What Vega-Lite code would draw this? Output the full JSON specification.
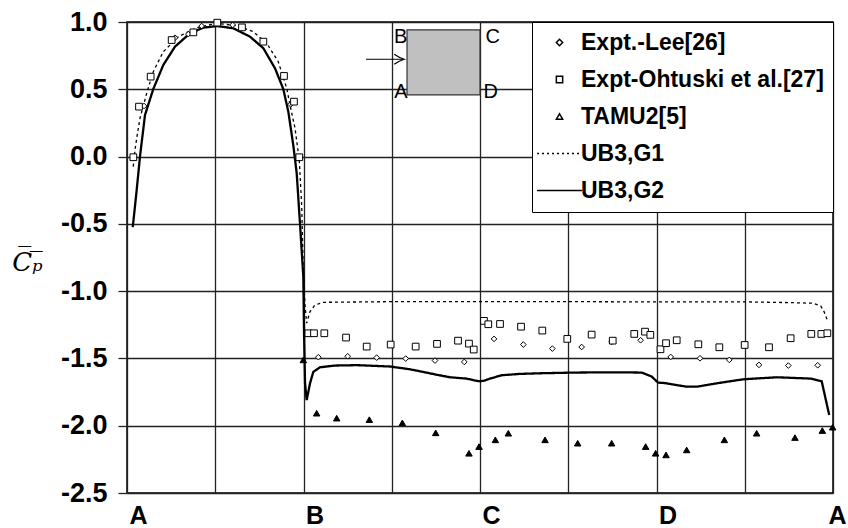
{
  "$schema": "https://vega.github.io/schema/vega-lite/v6.json",
  "width": 706,
  "height": 471,
  "autosize": "none",
  "padding": {"left": 127, "top": 22, "right": 15, "bottom": 35},
  "background": "white",
  "config": {
    "view": {"stroke": "black", "strokeWidth": 1.5},
    "font": "Liberation Sans",
    "axis": {
      "grid": true,
      "gridColor": "#222222",
      "gridWidth": 1.3,
      "gridOpacity": 1,
      "domain": false,
      "labelColor": "black",
      "labelFont": "Liberation Sans",
      "labelFontWeight": "bold",
      "labelFlush": false,
      "labelOverlap": false
    }
  },
  "datasets": {
    "curves": [
      {"series": "UB3,G2", "x": 0.065, "y": -0.525},
      {"series": "UB3,G2", "x": 0.110, "y": -0.248},
      {"series": "UB3,G2", "x": 0.147, "y": 0.0},
      {"series": "UB3,G2", "x": 0.204, "y": 0.309},
      {"series": "UB3,G2", "x": 0.298, "y": 0.502},
      {"series": "UB3,G2", "x": 0.411, "y": 0.68},
      {"series": "UB3,G2", "x": 0.544, "y": 0.817},
      {"series": "UB3,G2", "x": 0.714, "y": 0.916},
      {"series": "UB3,G2", "x": 0.865, "y": 0.958},
      {"series": "UB3,G2", "x": 1.023, "y": 0.970},
      {"series": "UB3,G2", "x": 1.205, "y": 0.953},
      {"series": "UB3,G2", "x": 1.394, "y": 0.891},
      {"series": "UB3,G2", "x": 1.545, "y": 0.805},
      {"series": "UB3,G2", "x": 1.677, "y": 0.656},
      {"series": "UB3,G2", "x": 1.771, "y": 0.502},
      {"series": "UB3,G2", "x": 1.828, "y": 0.334},
      {"series": "UB3,G2", "x": 1.884, "y": 0.086},
      {"series": "UB3,G2", "x": 1.923, "y": -0.124},
      {"series": "UB3,G2", "x": 1.960, "y": -0.496},
      {"series": "UB3,G2", "x": 1.998, "y": -0.892},
      {"series": "UB3,G2", "x": 2.006, "y": -1.3},
      {"series": "UB3,G2", "x": 2.017, "y": -1.68},
      {"series": "UB3,G2", "x": 2.036, "y": -1.81},
      {"series": "UB3,G2", "x": 2.074, "y": -1.685},
      {"series": "UB3,G2", "x": 2.111, "y": -1.6},
      {"series": "UB3,G2", "x": 2.187, "y": -1.566},
      {"series": "UB3,G2", "x": 2.35, "y": -1.553},
      {"series": "UB3,G2", "x": 2.603, "y": -1.55},
      {"series": "UB3,G2", "x": 2.98, "y": -1.56},
      {"series": "UB3,G2", "x": 3.2, "y": -1.58},
      {"series": "UB3,G2", "x": 3.354, "y": -1.6},
      {"series": "UB3,G2", "x": 3.5, "y": -1.62},
      {"series": "UB3,G2", "x": 3.66, "y": -1.64},
      {"series": "UB3,G2", "x": 3.849, "y": -1.65},
      {"series": "UB3,G2", "x": 3.95, "y": -1.665},
      {"series": "UB3,G2", "x": 4.0, "y": -1.67},
      {"series": "UB3,G2", "x": 4.05, "y": -1.665},
      {"series": "UB3,G2", "x": 4.113, "y": -1.65},
      {"series": "UB3,G2", "x": 4.246, "y": -1.625},
      {"series": "UB3,G2", "x": 4.45, "y": -1.615},
      {"series": "UB3,G2", "x": 4.699, "y": -1.61},
      {"series": "UB3,G2", "x": 5.076, "y": -1.605},
      {"series": "UB3,G2", "x": 5.5, "y": -1.603},
      {"series": "UB3,G2", "x": 5.832, "y": -1.605},
      {"series": "UB3,G2", "x": 5.946, "y": -1.635},
      {"series": "UB3,G2", "x": 6.017, "y": -1.68},
      {"series": "UB3,G2", "x": 6.096, "y": -1.683},
      {"series": "UB3,G2", "x": 6.2, "y": -1.695},
      {"series": "UB3,G2", "x": 6.342, "y": -1.71},
      {"series": "UB3,G2", "x": 6.456, "y": -1.71},
      {"series": "UB3,G2", "x": 6.682, "y": -1.685},
      {"series": "UB3,G2", "x": 6.984, "y": -1.655},
      {"series": "UB3,G2", "x": 7.362, "y": -1.64},
      {"series": "UB3,G2", "x": 7.751, "y": -1.65},
      {"series": "UB3,G2", "x": 7.872, "y": -1.67},
      {"series": "UB3,G2", "x": 7.957, "y": -1.92},
      {"series": "UB3,G1", "x": 0.071, "y": -0.075},
      {"series": "UB3,G1", "x": 0.091, "y": 0.05},
      {"series": "UB3,G1", "x": 0.110, "y": 0.136},
      {"series": "UB3,G1", "x": 0.147, "y": 0.285},
      {"series": "UB3,G1", "x": 0.223, "y": 0.47},
      {"series": "UB3,G1", "x": 0.298, "y": 0.631},
      {"series": "UB3,G1", "x": 0.411, "y": 0.779},
      {"series": "UB3,G1", "x": 0.581, "y": 0.891},
      {"series": "UB3,G1", "x": 0.790, "y": 0.958},
      {"series": "UB3,G1", "x": 1.016, "y": 0.99},
      {"series": "UB3,G1", "x": 1.243, "y": 0.973},
      {"series": "UB3,G1", "x": 1.431, "y": 0.928},
      {"series": "UB3,G1", "x": 1.583, "y": 0.842},
      {"series": "UB3,G1", "x": 1.714, "y": 0.705},
      {"series": "UB3,G1", "x": 1.810, "y": 0.507},
      {"series": "UB3,G1", "x": 1.847, "y": 0.383},
      {"series": "UB3,G1", "x": 1.904, "y": 0.21},
      {"series": "UB3,G1", "x": 1.952, "y": -0.025},
      {"series": "UB3,G1", "x": 1.980, "y": -0.372},
      {"series": "UB3,G1", "x": 1.998, "y": -0.867},
      {"series": "UB3,G1", "x": 2.017, "y": -1.1},
      {"series": "UB3,G1", "x": 2.036, "y": -1.238},
      {"series": "UB3,G1", "x": 2.074, "y": -1.152},
      {"series": "UB3,G1", "x": 2.130, "y": -1.103},
      {"series": "UB3,G1", "x": 2.224, "y": -1.083},
      {"series": "UB3,G1", "x": 3.0, "y": -1.078},
      {"series": "UB3,G1", "x": 4.0, "y": -1.078},
      {"series": "UB3,G1", "x": 5.0, "y": -1.078},
      {"series": "UB3,G1", "x": 6.0, "y": -1.08},
      {"series": "UB3,G1", "x": 7.0, "y": -1.08},
      {"series": "UB3,G1", "x": 7.5, "y": -1.085},
      {"series": "UB3,G1", "x": 7.777, "y": -1.09},
      {"series": "UB3,G1", "x": 7.861, "y": -1.11},
      {"series": "UB3,G1", "x": 7.898, "y": -1.152},
      {"series": "UB3,G1", "x": 7.935, "y": -1.214}
    ],
    "tests": [
      {"series": "Expt.-Lee[26]", "x": 0.193, "y": 0.376},
      {"series": "Expt.-Lee[26]", "x": 0.544, "y": 0.883},
      {"series": "Expt.-Lee[26]", "x": 0.695, "y": 0.91},
      {"series": "Expt.-Lee[26]", "x": 0.846, "y": 0.97},
      {"series": "Expt.-Lee[26]", "x": 1.197, "y": 0.978},
      {"series": "Expt.-Lee[26]", "x": 1.855, "y": 0.388},
      {"series": "Expt.-Lee[26]", "x": 2.168, "y": -1.491},
      {"series": "Expt.-Lee[26]", "x": 2.501, "y": -1.484},
      {"series": "Expt.-Lee[26]", "x": 2.829, "y": -1.494},
      {"series": "Expt.-Lee[26]", "x": 3.158, "y": -1.501},
      {"series": "Expt.-Lee[26]", "x": 3.49, "y": -1.516},
      {"series": "Expt.-Lee[26]", "x": 3.822, "y": -1.526},
      {"series": "Expt.-Lee[26]", "x": 4.159, "y": -1.355},
      {"series": "Expt.-Lee[26]", "x": 4.491, "y": -1.397},
      {"series": "Expt.-Lee[26]", "x": 4.82, "y": -1.427},
      {"series": "Expt.-Lee[26]", "x": 5.152, "y": -1.415},
      {"series": "Expt.-Lee[26]", "x": 5.492, "y": -1.377},
      {"series": "Expt.-Lee[26]", "x": 5.82, "y": -1.365},
      {"series": "Expt.-Lee[26]", "x": 6.161, "y": -1.489},
      {"series": "Expt.-Lee[26]", "x": 6.493, "y": -1.499},
      {"series": "Expt.-Lee[26]", "x": 6.825, "y": -1.511},
      {"series": "Expt.-Lee[26]", "x": 7.161, "y": -1.548},
      {"series": "Expt.-Lee[26]", "x": 7.494, "y": -1.553},
      {"series": "Expt.-Lee[26]", "x": 7.827, "y": -1.551},
      {"series": "Expt-Ohtuski et al.[27]", "x": 0.072, "y": -0.005},
      {"series": "Expt-Ohtuski et al.[27]", "x": 0.136, "y": 0.371},
      {"series": "Expt-Ohtuski et al.[27]", "x": 0.268, "y": 0.594},
      {"series": "Expt-Ohtuski et al.[27]", "x": 0.506, "y": 0.866},
      {"series": "Expt-Ohtuski et al.[27]", "x": 0.752, "y": 0.923},
      {"series": "Expt-Ohtuski et al.[27]", "x": 1.023, "y": 0.995},
      {"series": "Expt-Ohtuski et al.[27]", "x": 1.303, "y": 0.96},
      {"series": "Expt-Ohtuski et al.[27]", "x": 1.545, "y": 0.854},
      {"series": "Expt-Ohtuski et al.[27]", "x": 1.779, "y": 0.599},
      {"series": "Expt-Ohtuski et al.[27]", "x": 1.892, "y": 0.408},
      {"series": "Expt-Ohtuski et al.[27]", "x": 1.952, "y": -0.005},
      {"series": "Expt-Ohtuski et al.[27]", "x": 2.055, "y": -1.313},
      {"series": "Expt-Ohtuski et al.[27]", "x": 2.119, "y": -1.313},
      {"series": "Expt-Ohtuski et al.[27]", "x": 2.236, "y": -1.313},
      {"series": "Expt-Ohtuski et al.[27]", "x": 2.482, "y": -1.345},
      {"series": "Expt-Ohtuski et al.[27]", "x": 2.716, "y": -1.412},
      {"series": "Expt-Ohtuski et al.[27]", "x": 2.988, "y": -1.397},
      {"series": "Expt-Ohtuski et al.[27]", "x": 3.271, "y": -1.412},
      {"series": "Expt-Ohtuski et al.[27]", "x": 3.513, "y": -1.392},
      {"series": "Expt-Ohtuski et al.[27]", "x": 3.751, "y": -1.368},
      {"series": "Expt-Ohtuski et al.[27]", "x": 3.875, "y": -1.39},
      {"series": "Expt-Ohtuski et al.[27]", "x": 3.929, "y": -1.434},
      {"series": "Expt-Ohtuski et al.[27]", "x": 4.045, "y": -1.221},
      {"series": "Expt-Ohtuski et al.[27]", "x": 4.094, "y": -1.246},
      {"series": "Expt-Ohtuski et al.[27]", "x": 4.227, "y": -1.244},
      {"series": "Expt-Ohtuski et al.[27]", "x": 4.465, "y": -1.264},
      {"series": "Expt-Ohtuski et al.[27]", "x": 4.706, "y": -1.293},
      {"series": "Expt-Ohtuski et al.[27]", "x": 4.989, "y": -1.355},
      {"series": "Expt-Ohtuski et al.[27]", "x": 5.265, "y": -1.323},
      {"series": "Expt-Ohtuski et al.[27]", "x": 5.504, "y": -1.368},
      {"series": "Expt-Ohtuski et al.[27]", "x": 5.748, "y": -1.318},
      {"series": "Expt-Ohtuski et al.[27]", "x": 5.87, "y": -1.301},
      {"series": "Expt-Ohtuski et al.[27]", "x": 5.93, "y": -1.325},
      {"series": "Expt-Ohtuski et al.[27]", "x": 6.045, "y": -1.432},
      {"series": "Expt-Ohtuski et al.[27]", "x": 6.108, "y": -1.387},
      {"series": "Expt-Ohtuski et al.[27]", "x": 6.229, "y": -1.365},
      {"series": "Expt-Ohtuski et al.[27]", "x": 6.474, "y": -1.395},
      {"series": "Expt-Ohtuski et al.[27]", "x": 6.712, "y": -1.417},
      {"series": "Expt-Ohtuski et al.[27]", "x": 6.999, "y": -1.4},
      {"series": "Expt-Ohtuski et al.[27]", "x": 7.275, "y": -1.417},
      {"series": "Expt-Ohtuski et al.[27]", "x": 7.52, "y": -1.35},
      {"series": "Expt-Ohtuski et al.[27]", "x": 7.754, "y": -1.318},
      {"series": "Expt-Ohtuski et al.[27]", "x": 7.868, "y": -1.318},
      {"series": "Expt-Ohtuski et al.[27]", "x": 7.936, "y": -1.313},
      {"series": "TAMU2[5]", "x": 1.998, "y": -1.511},
      {"series": "TAMU2[5]", "x": 2.149, "y": -1.907},
      {"series": "TAMU2[5]", "x": 2.376, "y": -1.944},
      {"series": "TAMU2[5]", "x": 2.746, "y": -1.955},
      {"series": "TAMU2[5]", "x": 3.12, "y": -1.979},
      {"series": "TAMU2[5]", "x": 3.498, "y": -2.053},
      {"series": "TAMU2[5]", "x": 3.875, "y": -2.205},
      {"series": "TAMU2[5]", "x": 3.989, "y": -2.155},
      {"series": "TAMU2[5]", "x": 4.174, "y": -2.105},
      {"series": "TAMU2[5]", "x": 4.321, "y": -2.056},
      {"series": "TAMU2[5]", "x": 4.737, "y": -2.105},
      {"series": "TAMU2[5]", "x": 5.107, "y": -2.13},
      {"series": "TAMU2[5]", "x": 5.492, "y": -2.13},
      {"series": "TAMU2[5]", "x": 5.877, "y": -2.155},
      {"series": "TAMU2[5]", "x": 5.99, "y": -2.205},
      {"series": "TAMU2[5]", "x": 6.108, "y": -2.217},
      {"series": "TAMU2[5]", "x": 6.342, "y": -2.18},
      {"series": "TAMU2[5]", "x": 6.769, "y": -2.105},
      {"series": "TAMU2[5]", "x": 7.135, "y": -2.056},
      {"series": "TAMU2[5]", "x": 7.569, "y": -2.088},
      {"series": "TAMU2[5]", "x": 7.879, "y": -2.036},
      {"series": "TAMU2[5]", "x": 7.996, "y": -2.011}
    ]
  },
  "encoding": {
    "x": {
      "field": "x",
      "type": "quantitative",
      "scale": {"domain": [0, 8], "nice": false, "zero": false},
      "axis": {
        "title": null,
        "values": [0, 1, 2, 3, 4, 5, 6, 7, 8],
        "labelExpr": "datum.value == 0 || datum.value == 8 ? 'A' : datum.value == 2 ? 'B' : datum.value == 4 ? 'C' : datum.value == 6 ? 'D' : ''",
        "ticks": false,
        "labelFontSize": 25,
        "labelPadding": 10,
        "labelAlign": "left",
        "labelOffset": {"condition": {"test": "datum.value == 8", "value": -5}, "value": 2},
        "labelBaseline": "top"
      }
    },
    "y": {
      "field": "y",
      "type": "quantitative",
      "scale": {"domain": [-2.5, 1], "nice": false, "zero": false},
      "axis": {
        "values": [-2.5, -2, -1.5, -1, -0.5, 0, 0.5, 1],
        "labelExpr": "(datum.value < 0 ? '-' : '') + format(abs(datum.value), '.1f')",
        "labelFontSize": 27,
        "ticks": true,
        "tickSize": 9,
        "tickColor": "#222222",
        "tickWidth": 1.3,
        "labelPadding": 11,
        "title": "C̅ₚ̅",
        "titleAngle": 0,
        "titleX": -100,
        "titleY": 240,
        "titleAlign": "center",
        "titleBaseline": "middle",
        "titleFont": "DejaVu Serif",
        "titleFontStyle": "italic",
        "titleFontWeight": "normal",
        "titleFontSize": 26,
        "titleColor": "black"
      }
    }
  },
  "layer": [
    {
      "data": {"name": "curves"},
      "mark": {"type": "line", "color": "black", "clip": true},
      "encoding": {
        "detail": {"field": "series"},
        "strokeDash": {
          "field": "series",
          "type": "nominal",
          "scale": {"domain": ["UB3,G1", "UB3,G2"], "range": [[3, 3], [1, 0]]},
          "legend": null
        },
        "strokeWidth": {
          "condition": {"test": "datum.series === 'UB3,G2'", "value": 2.3},
          "value": 1.3
        }
      }
    },
    {
      "data": {"name": "tests"},
      "transform": [{"filter": "datum.series === 'Expt.-Lee[26]'"}],
      "mark": {"type": "point", "filled": true, "fill": "white", "stroke": "black", "strokeWidth": 1, "opacity": 1, "size": 32},
      "encoding": {
        "shape": {
          "field": "series",
          "type": "nominal",
          "scale": {
            "domain": ["Expt.-Lee[26]", "Expt-Ohtuski et al.[27]", "TAMU2[5]", "UB3,G1", "UB3,G2"],
            "range": [
              "diamond",
              "square",
              "triangle-up",
              "M-7.1,0H-6.47M-5.52,0H-4.89M-3.94,0H-3.31M-2.36,0H-1.73M-0.78,0H-0.15M0.8,0H1.43M2.38,0H3.01M3.96,0H4.59M5.54,0H6.17",
              "M-7.1,0H7.1"
            ]
          },
          "legend": {
            "title": null,
            "orient": "top-right",
            "offset": 0,
            "padding": 9,
            "symbolOffset": 7,
            "symbolSize": 40,
            "labelFont": "Liberation Sans",
            "labelFontSize": 23,
            "labelFontWeight": "bold",
            "labelColor": "black",
            "labelOffset": 10,
            "labelLimit": 400,
            "rowPadding": 13,
            "fillColor": "white",
            "strokeColor": "black",
            "encode": {
              "symbols": {
                "fill": {"condition": {"test": "datum.value === 'TAMU2[5]'", "value": "black"}, "value": "white"},
                "stroke": {"value": "black"},
                "strokeWidth": {"condition": {"test": "datum.value === 'UB3,G2'", "value": 2.3}, "value": 1.2}
              }
            }
          }
        }
      }
    },
    {
      "data": {"name": "tests"},
      "transform": [{"filter": "datum.series === 'Expt-Ohtuski et al.[27]'"}],
      "mark": {"type": "point", "filled": true, "fill": "white", "stroke": "black", "strokeWidth": 1, "opacity": 1, "size": 45},
      "encoding": {"shape": {"field": "series", "type": "nominal"}}
    },
    {
      "data": {"name": "tests"},
      "transform": [{"filter": "datum.series === 'TAMU2[5]'"}],
      "mark": {"type": "point", "filled": true, "fill": "black", "stroke": "black", "strokeWidth": 1, "opacity": 1, "size": 42},
      "encoding": {"shape": {"field": "series", "type": "nominal"}}
    },
    {
      "data": {"values": [{"x": 3.173, "x2": 4.0, "y": 0.941, "y2": 0.458}]},
      "mark": {"type": "rect", "fill": "#c0c0c0", "stroke": "#333333", "strokeWidth": 1.2},
      "encoding": {"x2": {"field": "x2"}, "y2": {"field": "y2"}}
    },
    {
      "data": {"values": [
        {"x": 3.10, "y": 0.886, "t": "B"},
        {"x": 4.144, "y": 0.886, "t": "C"},
        {"x": 3.105, "y": 0.482, "t": "A"},
        {"x": 4.121, "y": 0.482, "t": "D"}
      ]},
      "mark": {"type": "text", "font": "Liberation Sans", "fontSize": 20, "align": "center", "baseline": "middle", "color": "black"},
      "encoding": {"text": {"field": "t"}}
    },
    {
      "data": {"values": [{"x": 2.708, "x2": 3.13, "y": 0.723}]},
      "mark": {"type": "rule", "color": "black", "strokeWidth": 1},
      "encoding": {"x2": {"field": "x2"}}
    },
    {
      "data": {"values": [{"x": 3.085, "y": 0.723}]},
      "mark": {"type": "point", "shape": "M-1,-1Q0,-0.3 1,0Q0,0.3 -1,1", "size": 100, "filled": false, "stroke": "black", "strokeWidth": 1.2, "opacity": 1}
    }
  ]
}
